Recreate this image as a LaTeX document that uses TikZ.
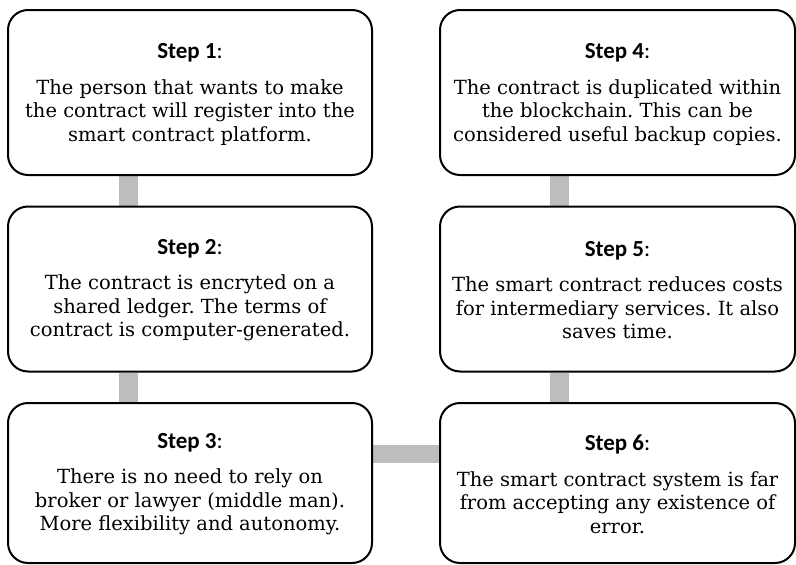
\documentclass[tikz,border=0pt]{standalone}
\usepackage{fontspec}
\setmainfont{DejaVu Serif}
\newfontfamily\headfont{Carlito}
\usetikzlibrary{backgrounds,calc}
\definecolor{conngray}{HTML}{BDBDBD}
\tikzset{
  stepbox/.style={draw=black, line width=2pt, rounded corners=20pt, fill=white, inner sep=0pt},
  leftbox/.style={stepbox, minimum width=364pt, minimum height=165pt},
  rightbox/.style={stepbox, minimum width=355pt, minimum height=165pt},
  steptext/.style={inner sep=0pt, align=center, font=\fontsize{19.5}{23.5}\selectfont\frenchspacing},
  conn/.style={fill=conngray}
}
\newcommand{\stephead}[1]{{\headfont\fontsize{23}{24}\selectfont\textbf{#1}:}\\[12pt]}
\begin{document}
\begin{tikzpicture}[x=1pt,y=-1pt]
\useasboundingbox (0,0) rectangle (796,565);
\node[leftbox] (b1) at (190,92.5) {};
\node[leftbox] (b2) at (190,289) {};
\node[leftbox, minimum height=160pt] (b3) at (190,483) {};
\node[rightbox] (b4) at (617.5,92.5) {};
\node[rightbox] (b5) at (617.5,289) {};
\node[rightbox, minimum height=160pt] (b6) at (617.5,483) {};
\node[steptext] (t1) at ($(b1.center)+(0,1.8)$) {\stephead{Step 1}The person that wants to make\\the contract will register into the\\smart contract platform.};
\node[steptext] (t2) at ($(b2.center)+(0,1.2)$) {\stephead{Step 2}The contract is encryted on a\\shared ledger. The terms of\\contract is computer-generated.};
\node[steptext] (t3) at ($(b3.center)+(0,1.2)$) {\stephead{Step 3}There is no need to rely on\\broker or lawyer (middle man).\\More flexibility and autonomy.};
\node[steptext] (t4) at ($(b4.center)+(0,1.8)$) {\stephead{Step 4}The contract is duplicated within\\the blockchain. This can be\\considered useful backup copies.};
\node[steptext] (t5) at ($(b5.center)+(0,1.2)$) {\stephead{Step 5}The smart contract reduces costs\\for intermediary services. It also\\saves time.};
\node[steptext] (t6) at ($(b6.center)+(0,1.2)$) {\stephead{Step 6}The smart contract system is far\\from accepting any existence of\\error.};
\begin{scope}[on background layer]
\fill[conn] (b1.south -| 118.5,0) rectangle (b2.north -| 137.5,0);
\fill[conn] (b2.south -| 118.5,0) rectangle (b3.north -| 137.5,0);
\fill[conn] (b4.south -| 550,0) rectangle (b5.north -| 569,0);
\fill[conn] (b5.south -| 550,0) rectangle (b6.north -| 569,0);
\fill[conn] (b3.east |- 0,445) rectangle (b6.west |- 0,463);
\end{scope}
\end{tikzpicture}
\end{document}
